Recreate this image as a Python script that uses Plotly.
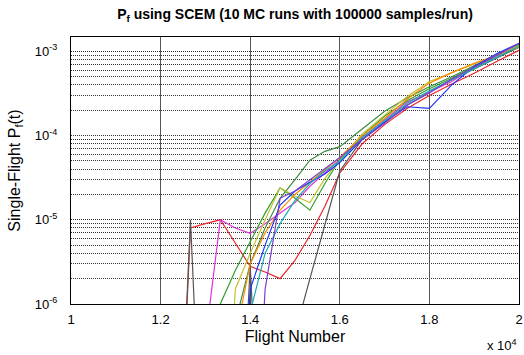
import plotly.graph_objects as go

# Flight numbers at which the single-flight failure probability was evaluated
flights = [12333, 12667, 13000, 13333, 13667, 14000, 14333, 14667, 15000, 15333,
           15667, 16000, 16500, 17000, 17500, 18000, 18500, 19000, 19500, 20000]

# Z marks flights where a run saw (essentially) no failures; it falls far below the axis
Z = 1e-9

run_01 = [Z, 8.0e-6, 9.0e-6, 1.0e-5, 5.3e-6, 2.8e-6, 2.4e-6, 2.0e-6, 3.3e-6, 6.5e-6,
          1.45e-5, 3.6e-5, 8.0e-5, 1.35e-4, 2.1e-4, 3.0e-4, 4.1e-4, 5.5e-4, 7.6e-4, 1.03e-3]
run_02 = [Z, 1.0e-5, Z, Z, Z, 2.8e-6, Z, Z, 4.5e-7, 2.0e-6,
          8.5e-6, 3.8e-5, 9.0e-5, 1.45e-4, 2.3e-4, 3.3e-4, 4.6e-4, 6.2e-4, 8.4e-4, 1.12e-3]
run_03 = [Z, Z, 3.7e-7, 1.0e-5, 8.0e-6, 6.9e-6, 9.0e-6, 1.2e-5, 1.6e-5, 2.5e-5,
          3.6e-5, 5.2e-5, 9.5e-5, 1.55e-4, 2.5e-4, 3.3e-4, 4.4e-4, 6.4e-4, 8.8e-4, 1.18e-3]
run_04 = [Z, Z, Z, 1.0e-6, 2.5e-6, 5.5e-6, 1.2e-5, 2.4e-5, 1.8e-5, 1.3e-5,
          2.7e-5, 5.2e-5, 1.0e-4, 1.7e-4, 2.6e-4, 3.6e-4, 4.8e-4, 6.6e-4, 9.0e-4, 1.2e-3]
run_05 = [Z, Z, Z, Z, 6.0e-7, 3.0e-6, 8.0e-6, 1.8e-5, 3.0e-5, 5.1e-5,
          6.5e-5, 7.4e-5, 1.2e-4, 1.95e-4, 2.8e-4, 3.8e-4, 5.0e-4, 6.8e-4, 9.2e-4, 1.22e-3]
run_06 = [Z, Z, Z, Z, 1.5e-6, 4.0e-6, 1.0e-5, 2.4e-5, 1.9e-5, 1.6e-5,
          3.1e-5, 5.0e-5, 1.05e-4, 1.75e-4, 2.9e-4, 4.4e-4, 5.6e-4, 7.0e-4, 9.0e-4, 1.18e-3]
run_07 = [Z, Z, Z, Z, 4.0e-7, 3.0e-6, 7.0e-6, 1.3e-5, 2.0e-5, 2.8e-5,
          4.0e-5, 5.5e-5, 1.0e-4, 1.6e-4, 2.7e-4, 4.2e-4, 5.6e-4, 7.2e-4, 9.0e-4, 1.12e-3]
run_08 = [Z, Z, Z, Z, Z, 1.5e-6, 5.0e-6, 1.5e-5, 2.2e-5, 2.8e-5,
          3.5e-5, 4.8e-5, 9.0e-5, 1.45e-4, 2.2e-4, 2.1e-4, 4.0e-4, 6.6e-4, 9.4e-4, 1.25e-3]
run_09 = [Z, Z, Z, Z, Z, 8.0e-7, 4.0e-6, 9.0e-6, 1.7e-5, 2.7e-5,
          3.8e-5, 5.0e-5, 9.5e-5, 1.5e-4, 2.4e-4, 3.4e-4, 4.6e-4, 6.2e-4, 8.4e-4, 1.15e-3]
run_10 = [Z, Z, Z, Z, Z, Z, 1.5e-6, 1.8e-5, 2.2e-5, 3.0e-5,
          4.0e-5, 5.5e-5, 9.0e-5, 1.4e-4, 2.3e-4, 3.2e-4, 4.7e-4, 6.5e-4, 9.0e-4, 1.24e-3]

runs = [run_01, run_02, run_03, run_04, run_05, run_06, run_07, run_08, run_09, run_10]
colors = ["#e8262d", "#555555", "#e033d9", "#33a02c", "#3d8c40",
          "#c2c22f", "#ff8c00", "#1f33ff", "#19aeb0", "#7b3fd1"]

x_tickvals = [10000, 12000, 14000, 16000, 18000, 20000]
x_ticktext = ["1", "1.2", "1.4", "1.6", "1.8", "2"]
y_tickvals = [1e-6, 1e-5, 1e-4, 1e-3]
y_ticktext = ["10<sup>-6</sup>", "10<sup>-5</sup>", "10<sup>-4</sup>", "10<sup>-3</sup>"]
y_minor = [m * 10.0 ** e for e in (-6, -5, -4) for m in range(2, 10)]

fig = go.Figure()
for vals, col in zip(runs, colors):
    fig.add_trace(go.Scatter(x=flights, y=vals, mode="lines",
                             line=dict(color=col, width=1.2), showlegend=False))

font = "Arial, Liberation Sans, sans-serif"
grid_dash = "1px,1px"
fig.update_layout(
    width=524, height=355,
    margin=dict(l=71, r=1, t=37, b=51),
    paper_bgcolor="white", plot_bgcolor="white",
    font=dict(family=font, size=13, color="black"),
    title=dict(text="<b>P<sub>f</sub> using SCEM (10 MC runs with 100000 samples/run)</b>",
               x=0.5, xref="paper", xanchor="center", y=0.96, yanchor="middle",
               font=dict(size=14)),
    xaxis=dict(range=[10000, 20000], tickvals=x_tickvals, ticktext=x_ticktext,
               showgrid=True, gridcolor="#555555", gridwidth=1,
               showline=True, linecolor="black", linewidth=1, mirror=True,
               ticks="", zeroline=False, ticklabelstandoff=3,
               ticklabeloverflow="allow",
               title=dict(text="Flight Number", standoff=5)),
    yaxis=dict(type="log", range=[-6, -2.829], tickvals=y_tickvals, ticktext=y_ticktext,
               showgrid=True, gridcolor="#333333", griddash=grid_dash, gridwidth=1,
               minor=dict(tickvals=y_minor, showgrid=True, gridcolor="#333333",
                          griddash=grid_dash, gridwidth=1),
               showline=True, linecolor="black", linewidth=1, mirror=True,
               ticks="", zeroline=False, ticklabelstandoff=10,
               title=dict(text="Single-Flight P<sub>f</sub>(t)", standoff=10)),
)

fig.add_annotation(text="x 10<sup>4</sup>", xref="paper", yref="paper", x=1.0, y=0,
                   xanchor="right", yanchor="middle", yshift=-41, showarrow=False,
                   font=dict(size=13))

fig.write_html("out.html")
